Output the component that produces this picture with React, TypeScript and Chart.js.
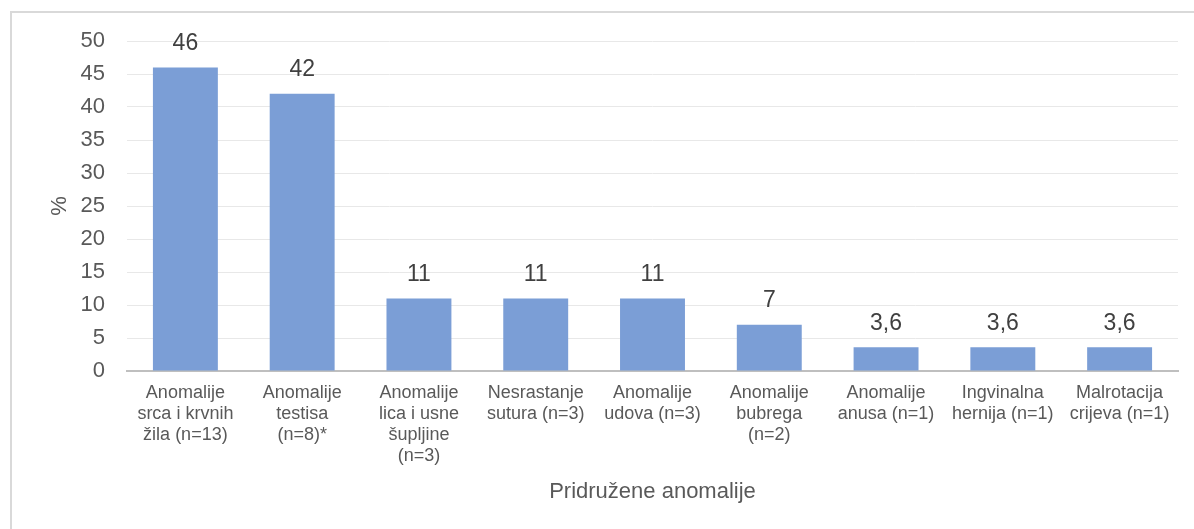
import React, { useEffect, useRef } from "react";
import { Chart, registerables } from "chart.js";

Chart.register(...registerables);

const categories: string[][] = [
  ["Anomalije", "srca i krvnih", "žila (n=13)"],
  ["Anomalije", "testisa", "(n=8)*"],
  ["Anomalije", "lica i usne", "šupljine", "(n=3)"],
  ["Nesrastanje", "sutura (n=3)"],
  ["Anomalije", "udova (n=3)"],
  ["Anomalije", "bubrega", "(n=2)"],
  ["Anomalije", "anusa (n=1)"],
  ["Ingvinalna", "hernija (n=1)"],
  ["Malrotacija", "crijeva (n=1)"],
];
const values: number[] = [46, 42, 11, 11, 11, 7, 3.6, 3.6, 3.6];
const valueLabels: string[] = ["46", "42", "11", "11", "11", "7", "3,6", "3,6", "3,6"];
const yTitle = "%";
const xTitle = "Pridružene anomalije";

const FONT = "'Liberation Sans', Arial, sans-serif";

const dataLabelPlugin = {
  id: "dataLabels",
  afterDatasetsDraw(chart: any) {
    const ctx = chart.ctx;
    const meta = chart.getDatasetMeta(0);
    ctx.save();
    ctx.font = `23px ${FONT}`;
    ctx.fillStyle = "#404040";
    ctx.textAlign = "center";
    ctx.textBaseline = "middle";
    meta.data.forEach((bar: any, i: number) => {
      ctx.fillText(valueLabels[i], bar.x, bar.y - 24);
    });
    ctx.restore();
  },
};

export default function App() {
  const ref = useRef<HTMLCanvasElement | null>(null);
  useEffect(() => {
    if (!ref.current) return;
    const chart = new Chart(ref.current, {
      type: "bar",
      data: {
        labels: categories,
        datasets: [
          {
            data: values,
            backgroundColor: "#7b9ed6",
            categoryPercentage: 1,
            barPercentage: 0.556,
          },
        ],
      },
      options: {
        animation: false,
        responsive: false,
        layout: { padding: { top: 41, right: 16, left: 0, bottom: 0 } },
        plugins: {
          legend: { display: false },
          tooltip: { enabled: false },
        },
        scales: {
          x: {
            grid: { display: false, drawTicks: false },
            border: { display: true, color: "#bfbfbf", width: 2 },
            ticks: {
              color: "#595959",
              font: { family: FONT, size: 18, lineHeight: 1.18 },
              padding: 11,
              autoSkip: false,
              maxRotation: 0,
              minRotation: 0,
            },
            title: {
              display: true,
              text: xTitle,
              color: "#595959",
              font: { family: FONT, size: 22 },
              padding: { top: 0, bottom: 24 },
            },
            afterFit: (scale: any) => {
              scale.height = 158;
            },
          },
          y: {
            min: 0,
            max: 50,
            ticks: {
              stepSize: 5,
              color: "#595959",
              font: { family: FONT, size: 22 },
              padding: 22,
            },
            grid: { color: "#e8e8e8", lineWidth: 1, drawTicks: false },
            border: { display: false },
            title: {
              display: true,
              text: yTitle,
              color: "#595959",
              font: { family: FONT, size: 22 },
              padding: { top: 47, bottom: 0 },
            },
            afterFit: (scale: any) => {
              scale.width = 127;
            },
          },
        },
      },
      plugins: [dataLabelPlugin],
    });
    return () => chart.destroy();
  }, []);

  return (
    <div
      style={{
        position: "fixed",
        left: 0,
        top: 0,
        width: 1194,
        height: 529,
        background: "#ffffff",
        overflow: "hidden",
      }}
    >
      <div
        style={{
          position: "absolute",
          left: 10,
          top: 11,
          width: 1300,
          height: 700,
          border: "2px solid #d9d9d9",
          boxSizing: "border-box",
        }}
      />
      <canvas
        ref={ref}
        width={1194}
        height={529}
        style={{ position: "absolute", left: 0, top: 0, width: 1194, height: 529 }}
      />
    </div>
  );
}
